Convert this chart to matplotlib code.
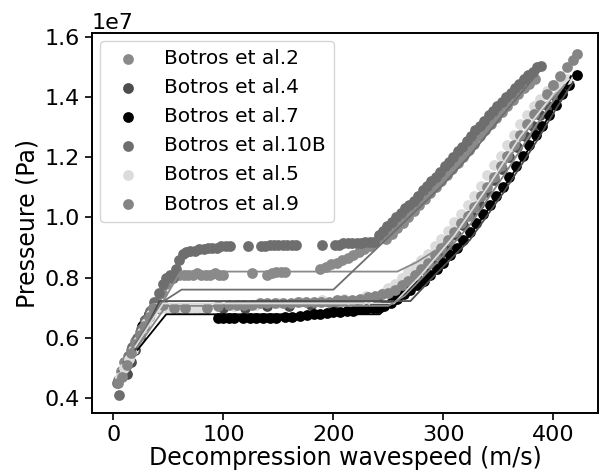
import matplotlib
matplotlib.use('Agg')
import matplotlib.pyplot as plt

# pressures are in units of 1e7 Pa, wavespeeds in m/s
labels = ['Botros et al.2', 'Botros et al.4', 'Botros et al.7',
          'Botros et al.10B', 'Botros et al.5', 'Botros et al.9']
colors = ['#8a8a8a', '#4d4d4d', '#000000', '#6e6e6e', '#dcdcdc', '#858585']

# measured points
v2 = [4, 7, 10, 13, 16, 20, 24, 28, 32, 36, 40, 44, 48, 52, 56, 60,
      64, 68, 72, 76, 80, 84, 88, 92, 96, 100, 126, 140, 144, 148, 152, 156,
      188, 193, 198, 203, 208, 213, 218, 223, 228, 233, 238, 243,
      248, 253, 258, 263, 268, 273, 278, 283, 288, 293, 298, 303, 308, 313,
      318, 323, 328, 333, 338, 343, 348, 353, 358, 363, 368, 373, 378, 383]
p2 = [0.46, 0.49, 0.52, 0.54, 0.56, 0.59, 0.62, 0.65, 0.68, 0.70, 0.72, 0.75, 0.78, 0.80, 0.81, 0.81,
      0.81, 0.81, 0.81, 0.815, 0.81, 0.81, 0.81, 0.815, 0.81, 0.81, 0.815, 0.81, 0.815, 0.82, 0.82, 0.82,
      0.83, 0.835, 0.845, 0.85, 0.86, 0.865, 0.875, 0.885, 0.895, 0.905, 0.92, 0.935,
      0.93, 0.945, 0.965, 0.98, 1.0, 1.02, 1.04, 1.06, 1.08, 1.10, 1.12, 1.14, 1.16, 1.18,
      1.20, 1.225, 1.245, 1.27, 1.29, 1.31, 1.33, 1.35, 1.37, 1.39, 1.41, 1.43, 1.445, 1.46]

v4 = [12, 16, 20, 24, 28, 32, 40, 60, 80, 100, 120, 140, 160, 180, 200, 220, 240,
      255, 262, 269, 276, 283, 290, 297, 304, 311, 318, 325, 332, 339, 346,
      353, 360, 367, 374, 381, 388, 395, 402, 409]
p4 = [0.48, 0.52, 0.56, 0.60, 0.64, 0.68, 0.70, 0.70, 0.70, 0.70, 0.70, 0.705, 0.705, 0.71, 0.71, 0.72, 0.73,
      0.74, 0.76, 0.78, 0.80, 0.825, 0.85, 0.875, 0.905, 0.94, 0.975, 1.01, 1.045, 1.085, 1.125,
      1.16, 1.20, 1.235, 1.27, 1.305, 1.34, 1.37, 1.40, 1.43]

v7 = [22, 26, 29, 95, 100, 105, 110, 118, 124, 130, 136, 142, 148, 156, 162, 170, 176,
      182, 188, 194, 200, 206, 212, 218, 224, 230, 236, 240,
      246, 252, 258, 264, 270, 276, 282, 288, 294, 300, 306, 312, 318, 324, 330,
      336, 342, 348, 354, 360, 366, 372, 378, 384, 390, 396, 402, 408, 414, 421]
p7 = [0.60, 0.64, 0.66, 0.665, 0.665, 0.665, 0.665, 0.665, 0.665, 0.665, 0.667, 0.667, 0.667, 0.67, 0.67, 0.672, 0.675,
      0.678, 0.68, 0.682, 0.685, 0.687, 0.69, 0.69, 0.695, 0.697, 0.70, 0.70,
      0.705, 0.715, 0.73, 0.745, 0.76, 0.775, 0.79, 0.81, 0.83, 0.85, 0.875, 0.90, 0.925, 0.95, 0.98,
      1.01, 1.04, 1.07, 1.10, 1.135, 1.17, 1.205, 1.24, 1.275, 1.305, 1.34, 1.375, 1.41, 1.44, 1.475]

v10 = [3, 5, 8, 11, 14, 17, 21, 25, 29, 33, 37, 41, 45, 48, 51, 54, 57, 60, 63, 66, 70,
       74, 78, 82, 86, 90, 94, 98, 102, 106, 122, 134, 138, 142, 146, 150, 154, 158, 162, 166,
       190, 201, 205, 209, 213, 217, 221, 225, 229, 233, 237,
       241, 245, 249, 253, 257, 261, 265, 269, 273, 277, 281, 285, 289, 293, 297, 301, 305,
       309, 313, 317, 321, 325, 329, 333, 337, 341, 345, 349, 353, 357, 361, 365, 369, 373,
       377, 381, 385, 389]
p10 = [0.45, 0.41, 0.48, 0.51, 0.54, 0.57, 0.60, 0.63, 0.66, 0.69, 0.72, 0.75, 0.78, 0.80, 0.81, 0.80, 0.83, 0.86, 0.88, 0.885, 0.89,
       0.89, 0.895, 0.895, 0.90, 0.90, 0.90, 0.905, 0.905, 0.905, 0.905, 0.905, 0.905, 0.91, 0.91, 0.91, 0.91, 0.91, 0.91, 0.91,
       0.91, 0.91, 0.91, 0.915, 0.915, 0.915, 0.915, 0.915, 0.92, 0.92, 0.92,
       0.94, 0.955, 0.97, 0.985, 1.0, 1.015, 1.03, 1.04, 1.055, 1.07, 1.09, 1.105, 1.12, 1.135, 1.15, 1.17, 1.185,
       1.20, 1.22, 1.235, 1.255, 1.27, 1.29, 1.305, 1.32, 1.34, 1.355, 1.37, 1.385, 1.40, 1.415, 1.43, 1.445, 1.46,
       1.475, 1.485, 1.50, 1.505]

v5 = [6, 10, 14, 18, 22, 26, 30, 34, 38, 44, 50, 56, 62, 68, 74, 80,
      110, 130, 150, 170, 190, 210, 230, 245,
      250, 256, 262, 268, 274, 280, 286, 292, 298, 304, 310, 316, 322, 328,
      334, 340, 346, 352, 358, 364, 370, 376, 382, 388, 394, 400, 406, 412]
p5 = [0.47, 0.50, 0.53, 0.56, 0.59, 0.62, 0.65, 0.68, 0.70, 0.70, 0.70, 0.70, 0.70, 0.70, 0.70, 0.70,
      0.705, 0.71, 0.715, 0.72, 0.725, 0.73, 0.74, 0.75,
      0.765, 0.78, 0.80, 0.82, 0.84, 0.86, 0.88, 0.905, 0.93, 0.955, 0.985, 1.01, 1.04, 1.07,
      1.105, 1.14, 1.175, 1.205, 1.24, 1.275, 1.31, 1.34, 1.37, 1.395, 1.42, 1.44, 1.45, 1.46]

v9 = [4, 8, 12, 16, 20, 24, 28, 32, 36, 45, 55, 65, 85, 95, 105, 112, 119, 126, 133, 140,
      147, 154, 161, 168, 175, 182, 189, 196, 203, 210, 217, 224, 231, 238, 244,
      250, 256, 262, 268, 274, 280, 286, 292, 298, 304, 310, 316, 322, 328, 334,
      340, 346, 352, 358, 364, 370, 376, 382, 388, 394, 400, 406, 412, 418, 421]
p9 = [0.45, 0.47, 0.51, 0.55, 0.58, 0.61, 0.64, 0.67, 0.70, 0.71, 0.70, 0.70, 0.70, 0.705, 0.71, 0.71, 0.71, 0.71, 0.715, 0.715,
      0.715, 0.715, 0.715, 0.72, 0.72, 0.72, 0.72, 0.72, 0.725, 0.725, 0.725, 0.73, 0.735, 0.74, 0.745,
      0.75, 0.76, 0.775, 0.79, 0.81, 0.83, 0.85, 0.875, 0.90, 0.925, 0.95, 0.98, 1.005, 1.035, 1.07,
      1.10, 1.135, 1.17, 1.205, 1.24, 1.275, 1.31, 1.345, 1.375, 1.41, 1.44, 1.47, 1.50, 1.525, 1.545]

# model curves
mv2 = [20, 45, 61, 258, 275, 295, 325, 355, 385, 412]
mp2 = [0.58, 0.72, 0.82, 0.82, 0.85, 0.895, 1.01, 1.17, 1.34, 1.45]
mv4 = [20, 42, 270, 294, 324, 355, 385, 403, 418]
mp4 = [0.56, 0.722, 0.722, 0.815, 0.925, 1.085, 1.255, 1.365, 1.45]
mv7 = [22, 48, 242, 254, 270, 294, 324, 355, 385, 403, 416]
mp7 = [0.56, 0.678, 0.678, 0.716, 0.765, 0.83, 0.94, 1.10, 1.27, 1.38, 1.47]
mv10 = [20, 45, 62, 200, 254, 280, 300, 325, 355, 388]
mp10 = [0.58, 0.72, 0.76, 0.76, 0.948, 1.04, 1.11, 1.21, 1.345, 1.49]
mv5 = [20, 45, 255, 280, 310, 340, 370, 400, 414]
mp5 = [0.57, 0.714, 0.714, 0.81, 0.94, 1.10, 1.27, 1.41, 1.46]
mv9 = [22, 48, 250, 265, 294, 324, 355, 385, 410]
mp9 = [0.57, 0.706, 0.706, 0.74, 0.85, 0.975, 1.14, 1.31, 1.44]

data_v = [v2, v4, v7, v10, v5, v9]
data_p = [p2, p4, p7, p10, p5, p9]
model_v = [mv2, mv4, mv7, mv10, mv5, mv9]
model_p = [mp2, mp4, mp7, mp10, mp5, mp9]

fig, ax = plt.subplots(figsize=(6.01, 4.73), dpi=100)
fig.subplots_adjust(left=0.153, right=0.995, top=0.930, bottom=0.127)

for v, p, c, lab in zip(data_v, data_p, colors, labels):
    ax.scatter(v, [x * 1e7 for x in p], s=60, color=c, linewidths=0, label=lab)

for v, p, c in zip(model_v, model_p, colors):
    ax.plot(v, [x * 1e7 for x in p], color=c, lw=1.3)

ax.set_xlim(-19.5, 440.5)
ax.set_ylim(0.35e7, 1.613e7)
ax.set_xticks([0, 100, 200, 300, 400])
ax.set_yticks([0.4e7, 0.6e7, 0.8e7, 1.0e7, 1.2e7, 1.4e7, 1.6e7])
ax.tick_params(labelsize=16, width=1.2, length=5, pad=3.5)
ax.yaxis.get_offset_text().set_fontsize(16)
for sp in ax.spines.values():
    sp.set_linewidth(1.4)

ax.set_xlabel('Decompression wavespeed (m/s)', fontsize=17, labelpad=1)
ax.set_ylabel('Presseure (Pa)', fontsize=17, labelpad=4)
ax.legend(loc='upper left', fontsize=14.5, scatterpoints=1, borderaxespad=0.4)

fig.savefig('out.png', dpi=100)
